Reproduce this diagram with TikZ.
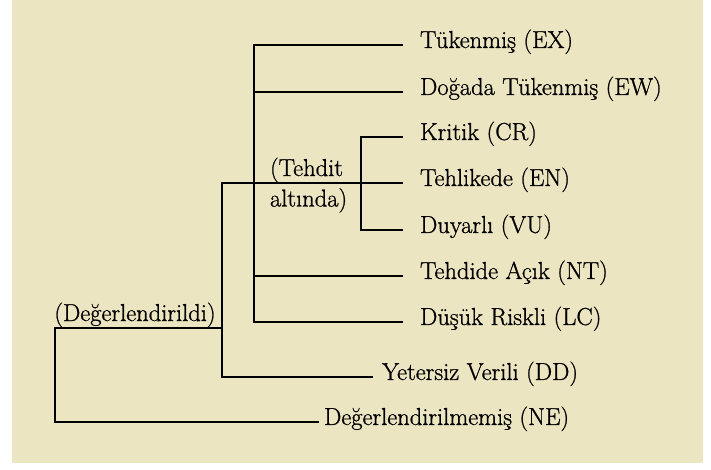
\documentclass[tikz,border=0pt]{standalone}
\usepackage{fontspec}
\newfontfamily\lblfont{Latin Modern Roman}[FakeBold=0.9]
\definecolor{bg}{RGB}{236,229,193}
\begin{document}
\begin{tikzpicture}[x=1pt,y=-1pt,
  line width=2.1pt,
  txt/.style={inner sep=0pt, font=\lblfont\fontsize{24.5}{28}\selectfont},
  lbl/.style={txt, anchor=west, text height=0.8em, text depth=0.21em},
  conn/.style={shorten >=16pt}]
\useasboundingbox (0,0) rectangle (711,469);
\fill[bg] (12,0) rectangle (703,463);
% leaf labels
\node[lbl] (ex) at (419,45) {Tükenmiş (EX)};
\node[lbl] (ew) at (419,92) {Doğada Tükenmiş (EW)};
\node[lbl] (cr) at (419,137) {Kritik (CR)};
\node[lbl] (en) at (419,183) {Tehlikede (EN)};
\node[lbl] (vu) at (419,230) {Duyarlı (VU)};
\node[lbl] (nt) at (419,276) {Tehdide Açık (NT)};
\node[lbl] (lc) at (419,322) {Düşük Riskli (LC)};
\node[lbl] (dd) at (381,377) {Yetersiz Verili (DD)};
\node[lbl] (ne) at (323,422) {Değerlendirilmemiş (NE)};
% group labels
\node[txt, anchor=base] (dlbl) at (135,321) {(Değerlendirildi)};
\node[txt, anchor=base west] (t1) at (269,176) {(Tehdit};
\node[txt, anchor=base west] (t2) at (269,206.5) {altında)};
% junctions
\coordinate (r) at (55,328);
\coordinate (dj) at (222,328);
\coordinate (tj) at (254,183);
\coordinate (sj) at (361,183);
% connectors
\draw[shorten >=4pt] (dj) -- (r) |- (ne.west);
\draw (dj) |- (tj);
\draw[shorten >=8pt] (dj) |- (dd.west);
\draw[conn] (tj) |- (ex.west);
\draw[conn] (tj) |- (ew.west);
\draw[conn] (tj) -- (en.west);
\draw[conn] (tj) |- (nt.west);
\draw[conn] (tj) |- (lc.west);
\draw[conn] (sj) |- (cr.west);
\draw[conn] (sj) |- (vu.west);
\end{tikzpicture}
\end{document}
